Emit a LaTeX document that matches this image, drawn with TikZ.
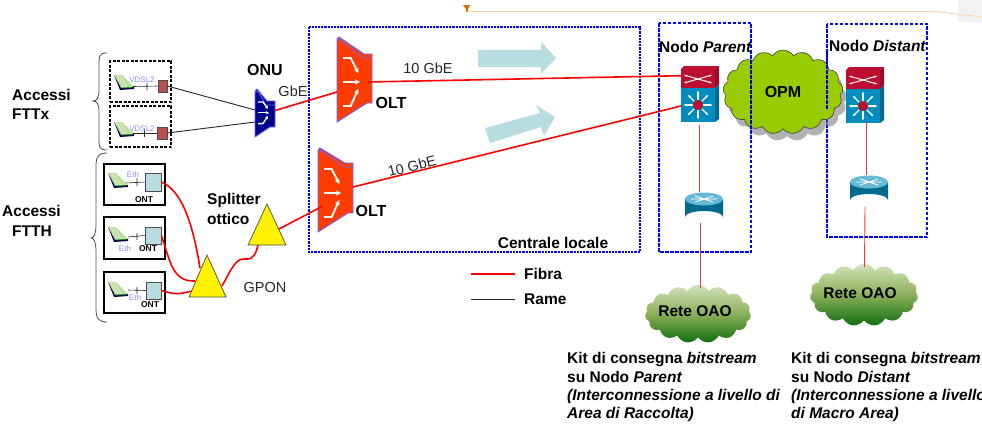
\documentclass[tikz,border=0pt]{standalone}
\usepackage{fontspec}
\setmainfont{Liberation Sans}
\usetikzlibrary{shapes.symbols,shapes.geometric,shadows,arrows.meta,calc}
\definecolor{fibra}{RGB}{255,0,0}
\definecolor{oltred}{RGB}{255,60,0}
\definecolor{ontc}{RGB}{183,221,224}
\definecolor{ciscoB}{RGB}{0,140,190}
\definecolor{ciscoR}{RGB}{190,15,50}
\definecolor{opmg}{RGB}{153,204,0}
\definecolor{oaotop}{RGB}{210,226,185}
\definecolor{oaomid}{RGB}{140,175,90}
\definecolor{oaobot}{RGB}{15,110,15}
\definecolor{padg}{RGB}{190,222,160}
\definecolor{portc}{RGB}{185,80,80}
\tikzset{
 x=1pt,y=-1pt,
 lbl/.style={font=\fontsize{14.5}{16}\selectfont,inner sep=0pt,text=black!85},
 blbl/.style={font=\fontsize{15.5}{17}\bfseries\selectfont,inner sep=0pt,text=black},
 bigb/.style={font=\fontsize{16}{18}\bfseries\selectfont,inner sep=0pt,text=black},
 tinyl/.style={font=\fontsize{8}{9}\selectfont,inner sep=0pt,text=blue!45!white},
 tinyb/.style={font=\fontsize{8.5}{9}\bfseries\selectfont,inner sep=0pt,text=black},
 kit/.style={font=\fontsize{15.5}{18.3}\bfseries\selectfont,inner sep=0pt,align=left,anchor=north west,text=black},
 fibre/.style={draw=fibra,line width=1.6pt},
 thinfibre/.style={draw=fibra!80!white,line width=0.9pt},
 rame/.style={draw=black!85,line width=0.9pt},
 vtri/.style={fill=yellow,draw=black!70,line width=0.7pt},
 dbox/.style={draw=blue,line width=1.3pt,dash pattern=on 3.5pt off 1.5pt},
 ftx/.style={draw=black,line width=1.3pt,dash pattern=on 3pt off 1.5pt},
 fth/.style={draw=black,line width=1.5pt},
 brc/.style={draw=black!70,line width=0.8pt},
 ontbox/.style={fill=ontc,draw=black!70,line width=0.8pt,inner sep=0pt},
 portbox/.style={fill=portc,draw=black!70,line width=0.7pt,inner sep=0pt},
 bluearrow/.style={fill=ontc,draw=none},
 pic1/.style={white,line width=1.9pt,-{Stealth[length=5pt,width=5pt]}},
 pic2/.style={white,line width=1.3pt,-{Stealth[length=3pt,width=3.5pt]}},
 oaocloud/.style={cloud,cloud puffs=15,cloud puff arc=120,aspect=1.9,inner sep=0pt,draw=none,top color=oaotop,bottom color=oaobot,middle color=oaomid},
}
\newcommand{\modemicon}[2]{%
 \fill[padg] (#1+1,#2) -- (#1+9,#2) -- (#1+21,#2+12) -- (#1+8,#2+13) -- cycle;
 \foreach \q in {3,6}{\draw[white!60!padg,line width=.6pt] (#1+1+\q,#2+1) -- (#1+8+\q,#2+12);}
 \fill[black!70!blue] (#1+1,#2) -- (#1+8,#2+13) -- (#1+21,#2+12) -- (#1+21,#2+14) -- (#1+7,#2+15) -- cycle;
 \draw[green!70!black,line width=.6pt] (#1+9,#2+13) -- (#1+19,#2+12.5);
}
\newcommand{\oltshape}[7]{% x y width height rtop rbot colour
 \fill[#7,draw=blue!60!white,line width=.9pt] (#1,#2+2) -- (#1+2,#2) -- (#1+#3-8,#5-2) -- (#1+#3,#5-2) -- (#1+#3,#6) -- (#1+#3-5,#6) -- (#1,#2+#4) -- cycle;
 \draw[blue!60!white,line width=.8pt] (#1,#2+3.5) -- (#1+3,#2+2) -- (#1+#3-9,#5+2) -- (#1+#3,#5+2);
}
\newcommand{\oltarrows}[5]{% x y scalex scaley style
 \begin{scope}[shift={(#1,#2)},xscale=#3,yscale=#4]
 \draw[#5] (0,0) -- (9,0) -- (18,15);
 \draw[#5] (0,24) -- (20,24);
 \draw[#5] (0,48) -- (9,48) -- (18,31);
 \end{scope}}
\newcommand{\switchicon}[2]{%
 \begin{scope}[shift={(#1,#2)}]
 \fill[ciscoR] (0,3) -- (3,0) -- (38,0) -- (34,3) -- cycle;
 \fill[ciscoR!80!black] (34,3) -- (38,0) -- (38,18) -- (34,22) -- cycle;
 \fill[ciscoB!75!black] (34,22) -- (38,18) -- (38,53) -- (34,56) -- cycle;
 \fill[ciscoR] (0,3) rectangle (34,22);
 \fill[ciscoB] (0,22) rectangle (34,56);
 \draw[white,line width=1pt,{Stealth[length=3pt]}-{Stealth[length=3pt]}] (3,9) -- (31,17);
 \draw[white,line width=1pt,{Stealth[length=3pt]}-{Stealth[length=3pt]}] (3,17) -- (31,9);
 \foreach \a in {0,45,...,315}{\draw[white,line width=1.3pt,-{Stealth[length=3.5pt]}] (17,39) -- ++(\a:14.5);}
 \fill[ciscoR,draw=black!70,line width=.5pt] (17,39) circle (5);
 \end{scope}}
\newcommand{\routericon}[2]{%
 \begin{scope}[shift={(#1,#2)}]
 \fill[ciscoB!75!black] (0,7) -- (0,25) arc[start angle=180,end angle=360,x radius=19,y radius=6] -- (38,7) -- cycle;
 \fill[ciscoB!60!white] (19,7) ellipse [x radius=19,y radius=6.5];
 \draw[white,line width=.8pt] (10,4) -- (28,10) (10,10) -- (28,4) (6,7) -- (32,7);
 \end{scope}}
\begin{document}
\begin{tikzpicture}
\useasboundingbox (0,0) rectangle (982,423);
\clip (0,0) rectangle (982,423);
% top decoration
\fill[black!5] (958,0) rectangle (982,22);
\fill[orange!85!black] (463,5) -- (470,5) -- (468,9) -- (468,12) -- (466,12) -- (466,9) -- cycle;
\draw[orange!35!white,line width=.8pt] (467,11.5) -- (935,11.5) -- (982,17);
% dashed frames
\draw[blue,line width=1.1pt,dash pattern=on 2.2pt off 1pt] (309,27) rectangle (640,252);
\draw[dbox] (659,23) rectangle (751,252);
\draw[dbox] (827,24) rectangle (927,237);
% blue arrows
\fill[bluearrow] (478,50) -- (541,50) -- (541,42) -- (556,58) -- (541,74) -- (541,67) -- (478,67) -- cycle;
\fill[bluearrow] (485,128) -- (540,113) -- (536,105) -- (555,117) -- (544,136) -- (541,127) -- (490,143) -- cycle;
% Braces
\draw[brc] (107,53) .. controls (99,53) and (99,56) .. (99,66) -- (99,90) .. controls (99,98) and (97,101) .. (93,101) .. controls (97,101) and (99,104) .. (99,112) -- (99,137) .. controls (99,147) and (99,150) .. (107,150);
\draw[brc] (107,153) .. controls (99,153) and (96,156) .. (96,166) -- (96,224) .. controls (96,234) and (94,238) .. (91,238) .. controls (94,238) and (96,242) .. (96,252) -- (96,309) .. controls (96,319) and (99,322) .. (107,322);
% Access boxes
\node[ftx,minimum width=61pt,minimum height=41pt,inner sep=0pt] (bx1) at (140.5,81.5) {};
\node[ftx,minimum width=61pt,minimum height=41pt,inner sep=0pt] (bx2) at (140.5,126.5) {};
\node[fth,minimum width=61pt,minimum height=41pt,inner sep=0pt] (bh1) at (134.5,184.5) {};
\node[fth,minimum width=61pt,minimum height=42pt,inner sep=0pt] (bh2) at (134.5,238) {};
\node[fth,minimum width=61pt,minimum height=41pt,inner sep=0pt] (bh3) at (134.5,292.5) {};
% Modem devices
\modemicon{113}{75}
\modemicon{113}{122}
\modemicon{107}{173}
\modemicon{107}{227}
\modemicon{107}{282}
\node[portbox,minimum width=9pt,minimum height=12pt] (p1) at (162.5,86) {};
\node[portbox,minimum width=10pt,minimum height=12pt] (p2) at (162,133) {};
\node[ontbox,minimum width=16pt,minimum height=18pt] (o1) at (153,182) {};
\node[ontbox,minimum width=16pt,minimum height=17pt] (o2) at (153,235.5) {};
\node[ontbox,minimum width=15pt,minimum height=17pt] (o3) at (153.5,290.5) {};
\coordinate (m1) at (133,86.5); \coordinate (m2) at (133,133);
\coordinate (m3) at (126,183); \coordinate (m4) at (128,237); \coordinate (m5) at (128,290);
\draw[rame,line width=.6pt] (m1) -- (p1.west) (147,83) -- (147,90);
\draw[rame,line width=.6pt] (m2) -- (p2.west) (144,129) -- (144,137);
\draw[rame,line width=.6pt] (m3) -- (o1.west) (137,178) -- (137,186);
\draw[rame,line width=.6pt] (m4) -- (o2.west) (137,233) -- (137,240);
\draw[rame,line width=.6pt] (m5) -- (o3.west) (137,287) -- (137,294);
\node[tinyl] (tv1) at (142,80) {VDSL2};
\node[tinyl] (tv2) at (142,128.5) {VDSL2};
\node[tinyl] (te1) at (133,175) {Eth};
\node[tinyl] (te2) at (125,249) {Eth};
\node[tinyl] (te3) at (135,298) {Eth};
\node[tinyb] (to1) at (144,200) {ONT};
\node[tinyb] (to2) at (148,249) {ONT};
\node[tinyb] (to3) at (150,305) {ONT};
% ONU and OLT
\oltshape{255}{89}{20}{48}{103}{127}{blue!55!black}
\oltarrows{258}{102}{.55}{.45}{pic2}
\coordinate (onuL1) at (255,110); \coordinate (onuL2) at (255,122); \coordinate (onuR) at (275,110.5);
\oltshape{337}{37}{35}{85}{56}{103}{oltred}
\oltarrows{343}{58}{.85}{1}{pic1}
\coordinate (olt1L) at (337,92); \coordinate (olt1R) at (368,82);
\oltshape{318}{148}{35}{84}{165}{213}{oltred}
\oltarrows{324}{169}{.85}{1}{pic1}
\coordinate (olt2L) at (323,206); \coordinate (olt2R) at (353,187);
% copper
\draw[rame] (p1.east) -- (onuL1);
\draw[rame] (p2.east) -- (onuL2);
% OPM cloud
\node[cloud,cloud puffs=17,cloud puff arc=115,aspect=1.45,minimum width=120pt,minimum height=84pt,inner sep=0pt,fill=opmg,draw=black!75,line width=.6pt,drop shadow={shadow xshift=4pt,shadow yshift=-7pt,fill=black!60}] (opm) at (783,92) {};
\node[bigb] (opmt) at (783,92) {OPM};
% frames pass over the cloud
\draw[dbox] (751,50) -- (751,140);
\draw[dbox] (827,50) -- (827,110);
% switches and routers
\switchicon{681}{66}
\switchicon{846}{67}
\routericon{685}{192}
\routericon{850}{175}
\coordinate (s1L) at (681,75.7); \coordinate (s1Lb) at (681,106);
\coordinate (s1D) at (699,125); \coordinate (r1U) at (699,192); \coordinate (r1D) at (700,223);
\coordinate (s2D) at (866,122); \coordinate (r2U) at (866,175); \coordinate (r2D) at (865,207);
% triangle corners
\coordinate (t1a) at (207,255); \coordinate (t1b) at (189,297); \coordinate (t1c) at (226,297);
\coordinate (t2a) at (267,204); \coordinate (t2b) at (248,245); \coordinate (t2c) at (286,245);
\coordinate (t1in1) at (200,268); \coordinate (t1in2) at (195,281); \coordinate (t1in3) at (192,291);
\coordinate (t1out) at (222,286); \coordinate (t2in) at (258,245); \coordinate (t2out) at (279,229);
% fibres
\draw[fibre] (onuR) -- (olt1L);
\draw[fibre] (olt1R) -- (s1L);
\draw[fibre] (olt2R) -- (s1Lb);
\draw[fibre] (t2out) -- (olt2L);
\draw[fibre] (o1.east) .. controls (175,188) and (190,205) .. (t1in1);
\draw[fibre] (o2.east) .. controls (170,260) and (172,282) .. (t1in2);
\draw[fibre] (o3.east) .. controls (175,295) and (180,294) .. (t1in3);
\draw[fibre] (t1out) .. controls (232,268) and (236,258) .. (245,259) .. controls (254,260) and (256,253) .. (t2in);
\draw[vtri] (t1a) -- (t1b) -- (t1c) -- cycle;
\draw[vtri] (t2a) -- (t2b) -- (t2c) -- cycle;
\draw[thinfibre] (s1D) -- (r1U);
\draw[thinfibre] (s2D) -- (r2U);
% Rete clouds
\node[oaocloud,minimum width=106pt,minimum height=58pt] (oao1) at (698,314) {};
\node[oaocloud,minimum width=108pt,minimum height=62pt] (oao2) at (864,295) {};
\coordinate (oao1U) at (700,288); \coordinate (oao2U) at (864.5,267);
\draw[thinfibre] (r1D) -- (oao1U);
\draw[thinfibre] (r2D) -- (oao2U);
\node[blbl] (to4) at (695,311) {Rete OAO};
\node[blbl] (to5) at (860,293) {Rete OAO};
% labels
\node[blbl,anchor=west] (a1) at (12,95) {Accessi};
\node[blbl,anchor=west] (a2) at (12,114) {FTTx};
\node[blbl,anchor=west] (a3) at (2,211) {Accessi};
\node[blbl,anchor=west] (a4) at (12,231) {FTTH};
\node[bigb] (a5) at (265,70) {ONU};
\node[lbl] (a6) at (293,91) {GbE};
\node[lbl] (a7) at (428,68) {10 GbE};
\node[lbl,rotate=14] (a8) at (412,166) {10 GbE};
\node[bigb] (a9) at (391,103) {OLT};
\node[bigb] (a10) at (371,211) {OLT};
\node[blbl,anchor=west] (a11) at (207,200) {Splitter};
\node[blbl,anchor=west] (a12) at (207,219) {ottico};
\node[lbl] (a13) at (265,288) {GPON};
\node[blbl] (a14) at (553,243) {Centrale locale};
\node[blbl,anchor=west] (a15) at (659,47) {Nodo \textit{Parent}};
\node[blbl,anchor=west] (a16) at (829,46) {Nodo \textit{Distant}};
% legend
\coordinate (lg1a) at (471,274); \coordinate (lg1b) at (515,274);
\coordinate (lg2a) at (471,299); \coordinate (lg2b) at (515,299);
\draw[fibre] (lg1a) -- (lg1b);
\draw[rame,line width=.7pt] (lg2a) -- (lg2b);
\node[blbl,anchor=west] (a17) at (524,274) {Fibra};
\node[blbl,anchor=west] (a18) at (524,299) {Rame};
% kit
\node[kit] (k1) at (567,352.5) {Kit di consegna \textit{bitstream}\\su Nodo \textit{Parent}\\\textit{(Interconnessione a livello di}\\\textit{Area di Raccolta)}};
\node[kit] (k2) at (791,352.5) {Kit di consegna \textit{bitstream}\\su Nodo \textit{Distant}\\\textit{(Interconnessione a livello}\\\textit{di Macro Area)}};
\end{tikzpicture}
\end{document}
